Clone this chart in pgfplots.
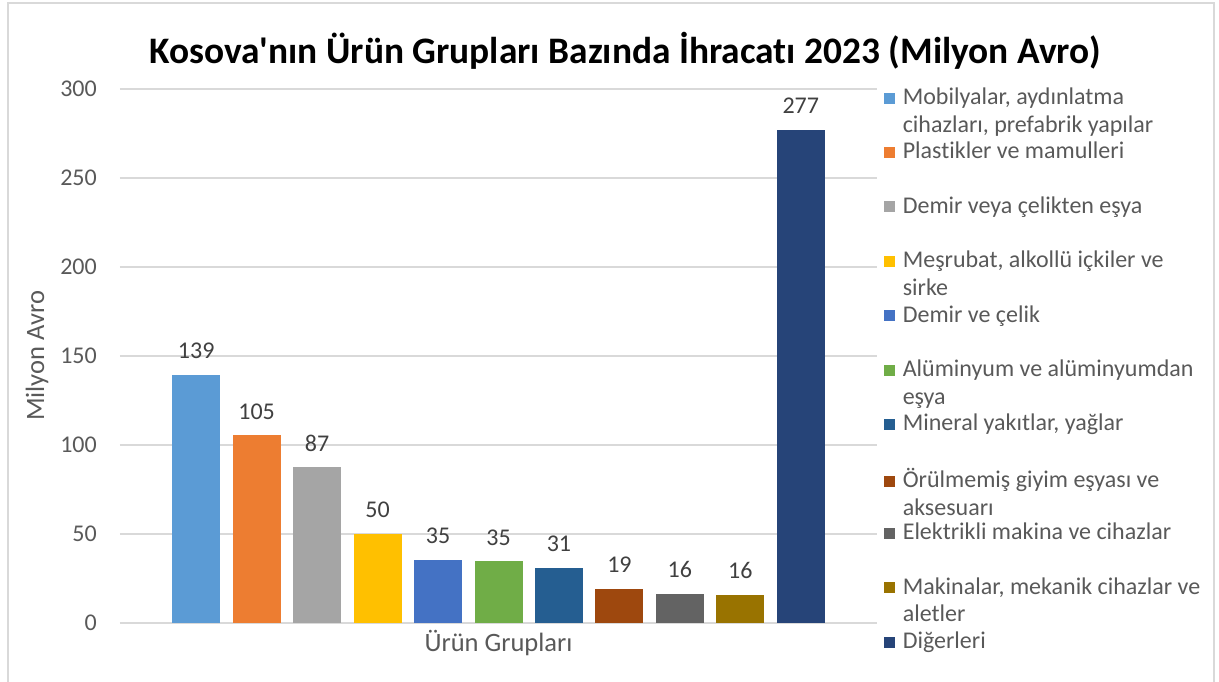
\documentclass[border=0pt]{standalone}
\usepackage{fontspec}
\defaultfontfeatures[\rmfamily]{}
\setmainfont{Carlito}[Ligatures=CommonOff]
\usepackage{pgfplots}
\pgfplotsset{compat=1.18}
\definecolor{c1}{HTML}{5B9BD5}
\definecolor{c2}{HTML}{ED7D31}
\definecolor{c3}{HTML}{A5A5A5}
\definecolor{c4}{HTML}{FFC000}
\definecolor{c5}{HTML}{4472C4}
\definecolor{c6}{HTML}{70AD47}
\definecolor{c7}{HTML}{255E91}
\definecolor{c8}{HTML}{9E480E}
\definecolor{c9}{HTML}{636363}
\definecolor{c10}{HTML}{997300}
\definecolor{c11}{HTML}{264478}
\definecolor{txt}{HTML}{595959}
\definecolor{lbl}{HTML}{404040}
\definecolor{gridc}{HTML}{D9D9D9}
\newcommand{\legtxt}[1]{\parbox[t][54.4pt][t]{303pt}{\fontsize{24}{27.5}\selectfont\raggedright #1}}
\begin{document}
\begin{tikzpicture}
\useasboundingbox (0pt,0pt) rectangle (1219pt,682pt);
\draw[gridc, line width=1.3pt] (8pt,-2pt) rectangle (1214pt,679pt);
\begin{axis}[
  at={(120pt,59pt)}, anchor=south west,
  scale only axis, width=757pt, height=534pt,
  xmin=-1.26, xmax=11.26, ymin=0, ymax=300,
  ytick={0,50,...,300}, xtick=\empty,
  axis line style={draw=none},
  major tick length=0pt,
  ymajorgrids, grid style={gridc, line width=1.3pt},
  clip=false,
  ybar,
  /pgf/number format/assume math mode=true,
  tick label style={font=\fontsize{24}{28}\selectfont, text=txt},
  yticklabel style={inner sep=0pt, xshift=-23pt},
  xlabel={Ürün Grupları}, ylabel={Milyon Avro},
  label style={font=\fontsize{26.5}{30}\selectfont, text=txt},
  xlabel style={at={(axis description cs:0.5,-0.0375)}, anchor=center},
  ylabel style={at={(axis description cs:-0.1096,0.5)}, anchor=center},
  title={Kosova'nın Ürün Grupları Bazında İhracatı 2023 (Milyon Avro)},
  title style={font=\fontsize{37.4}{42}\selectfont\bfseries, text=black, at={(axis description cs:0.667,1.060)}, anchor=center},
  nodes near coords={\pgfmathprintnumber[fixed,precision=0]{\pgfplotspointmeta}},
  nodes near coords style={font=\fontsize{24}{28}\selectfont, text=lbl, anchor=south, inner sep=0pt, yshift=16pt},
  legend cell align=left,
  legend style={at={(axis description cs:1.0087,1.0025)}, anchor=north west, draw=none, fill=none, inner sep=0pt, row sep=0pt, column sep=8pt, font=\fontsize{24}{27.5}\selectfont, text=txt, cells={anchor=base west}, nodes={inner sep=0pt, text depth=}},
  legend image code/.code={\fill[#1,draw=none] (0pt,1pt) rectangle (11pt,12pt);},
]
\addplot[bar width=48pt, bar shift=0pt, fill=c1, draw=none] coordinates {(0,139.4)};
\addlegendentry{\legtxt{Mobilyalar, aydınlatma cihazları, prefabrik yapılar}}
\addplot[bar width=48pt, bar shift=0pt, fill=c2, draw=none] coordinates {(1,105.4)};
\addlegendentry{\legtxt{Plastikler ve mamulleri}}
\addplot[bar width=48pt, bar shift=0pt, fill=c3, draw=none] coordinates {(2,87.4)};
\addlegendentry{\legtxt{Demir veya çelikten eşya}}
\addplot[bar width=48pt, bar shift=0pt, fill=c4, draw=none] coordinates {(3,50.1)};
\addlegendentry{\legtxt{Meşrubat, alkollü içkiler ve sirke}}
\addplot[bar width=48pt, bar shift=0pt, fill=c5, draw=none] coordinates {(4,35.2)};
\addlegendentry{\legtxt{Demir ve çelik}}
\addplot[bar width=48pt, bar shift=0pt, fill=c6, draw=none] coordinates {(5,34.6)};
\addlegendentry{\legtxt{Alüminyum ve alüminyumdan eşya}}
\addplot[bar width=48pt, bar shift=0pt, fill=c7, draw=none] coordinates {(6,30.7)};
\addlegendentry{\legtxt{Mineral yakıtlar, yağlar}}
\addplot[bar width=48pt, bar shift=0pt, fill=c8, draw=none] coordinates {(7,19.3)};
\addlegendentry{\legtxt{Örülmemiş giyim eşyası ve aksesuarı}}
\addplot[bar width=48pt, bar shift=0pt, fill=c9, draw=none] coordinates {(8,16.4)};
\addlegendentry{\legtxt{Elektrikli makina ve cihazlar}}
\addplot[bar width=48pt, bar shift=0pt, fill=c10, draw=none] coordinates {(9,15.8)};
\addlegendentry{\legtxt{Makinalar, mekanik cihazlar ve aletler}}
\addplot[bar width=48pt, bar shift=0pt, fill=c11, draw=none] coordinates {(10,277.2)};
\addlegendentry{\legtxt{Diğerleri}}
\end{axis}
\end{tikzpicture}
\end{document}
